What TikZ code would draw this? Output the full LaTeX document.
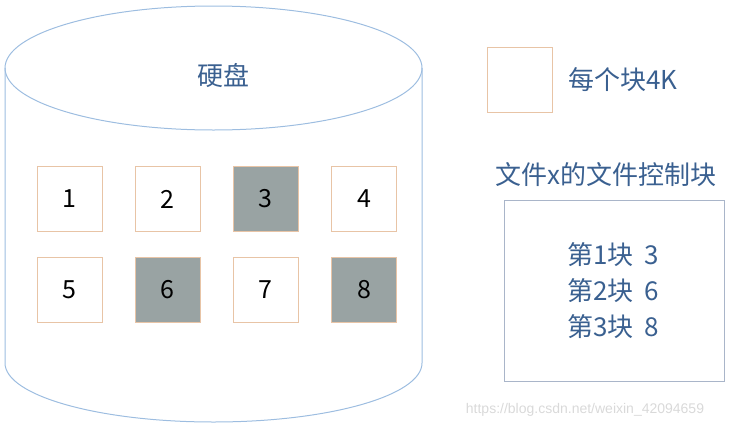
\documentclass[tikz,border=0pt]{standalone}
\usepackage{fontspec}
\setmainfont{Noto Sans CJK SC}
\newfontfamily\wmfont{Liberation Sans}
\usetikzlibrary{positioning}

\definecolor{diskline}{HTML}{9DBDE0}
\definecolor{blkline}{HTML}{E8C4A6}
\definecolor{blkfill}{HTML}{99A3A3}
\definecolor{lbltext}{HTML}{3A6090}
\definecolor{fcbline}{HTML}{A9B5C9}

\tikzset{
  blk/.style={draw=blkline, line width=1pt, minimum size=65pt, inner sep=0pt,
    font=\fontsize{25}{30}\selectfont},
  usedblk/.style={blk, fill=blkfill},
  lbl/.style={text=lbltext, font=\fontsize{26}{30}\selectfont, inner sep=0pt}
}

\begin{document}
\begin{tikzpicture}[x=1pt,y=-1pt]
    \useasboundingbox (0,0) rectangle (731,429);

    % the disk
    \draw[diskline, line width=1pt] (213.5,68) ellipse [x radius=208.5, y radius=62];
    \draw[diskline, line width=1pt] (5,68) -- (5,363)
      arc[start angle=180, end angle=0, x radius=208.5, y radius=59] -- (422,68);
    \node[lbl] (disk) at (223,76) {硬盘};

    % blocks on the disk
    \node[blk] (b1) at (69.5,199) {1};
    \node[blk] (b2) at (167.5,199) {2};
    \node[usedblk] (b3) at (265.5,199) {3};
    \node[blk] (b4) at (364,199) {4};
    \node[blk] (b5) at (69.5,290) {5};
    \node[usedblk] (b6) at (167.5,290) {6};
    \node[blk] (b7) at (265.5,290) {7};
    \node[usedblk] (b8) at (364,290) {8};

    % legend
    \node[blk] (legend) at (520,80) {};
    \node[lbl, right=15pt of legend] (legendtxt) {每个块4K};

    % file control block
    \node[lbl] (fcbtitle) at (606,175) {文件x的文件控制块};
    \node[draw=fcbline, line width=1pt, minimum width=220pt, minimum height=181pt]
      (fcb) at (614,290.5) {};
    \node[lbl, align=center, font=\fontsize{26}{36}\selectfont] (fcbtxt) at (613,291)
      {第1块\hspace{0.4em}3\\第2块\hspace{0.4em}6\\第3块\hspace{0.4em}8};

    \node[text=black!15, font=\wmfont\fontsize{14}{16}\selectfont, inner sep=0pt]
      (wm) at (585,410) {https://blog.csdn.net/weixin\_42094659};
\end{tikzpicture}
\end{document}
